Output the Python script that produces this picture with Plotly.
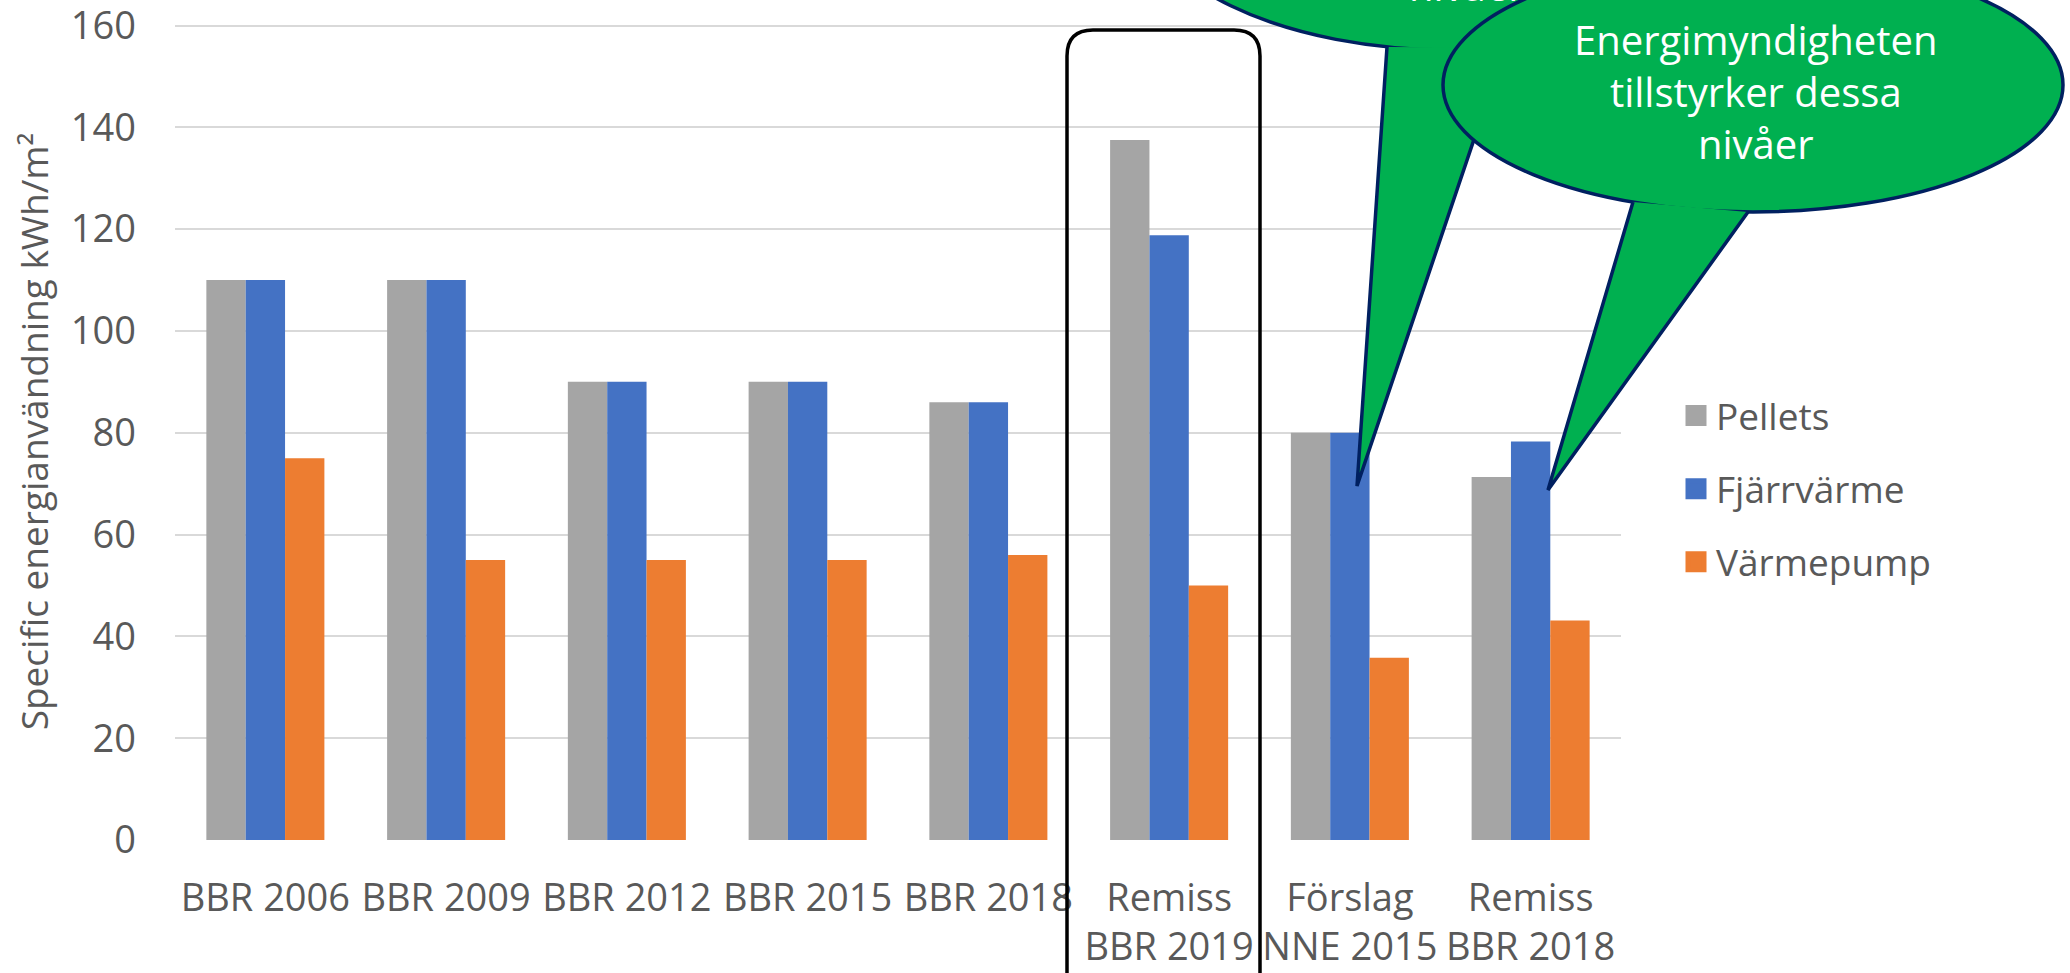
import plotly.graph_objects as go

# ---------------- data ----------------
categories = ["BBR 2006", "BBR 2009", "BBR 2012", "BBR 2015", "BBR 2018",
              "Remiss<br>BBR 2019", "Förslag<br>NNE 2015", "Remiss<br>BBR 2018"]
pellets = [110, 110, 90, 90, 86, 137.5, 80, 71.3]
fjarrvarme = [110, 110, 90, 90, 86, 118.8, 80, 78.3]
varmepump = [75, 55, 55, 55, 56, 50, 35.8, 43.1]
series_names = ["Pellets", "Fjärrvärme", "Värmepump"]
series_colors = ["#A5A5A5", "#4472C4", "#ED7D31"]
y_ticks = [0, 20, 40, 60, 80, 100, 120, 140, 160]
y_title = "Specific energianvändning kWh/m²"
bubble2_text = "Energimyndigheten<br>tillstyrker dessa<br>nivåer"
bubble1_text = "nivåer"

# ---------------- layout geometry (pixels) ----------------
W, H = 2070, 973
PL, PR, PT, PB = 175, 1621, 23, 840
Y_MAX = 160.5
FONT = "Open Sans"
TXT = "#595959"


def px(x):
    return (x - PL) / (PR - PL)


def py(y):
    return (PB - y) / (PB - PT)


fig = go.Figure()
for name, vals, col in zip(series_names, [pellets, fjarrvarme, varmepump], series_colors):
    fig.add_trace(go.Bar(x=categories, y=vals, name=name, marker_color=col,
                         marker_line_width=0, legendgroup=name, showlegend=False))
# legend entries (larger square swatches)
for name, col in zip(series_names, series_colors):
    fig.add_trace(go.Scatter(x=[None], y=[None], mode="markers", name=name,
                             legendgroup=name, hoverinfo="skip",
                             marker=dict(symbol="square", size=16, color=col,
                                         line=dict(color=col, width=5))))

shapes = []

# rounded rectangle around "Remiss BBR 2019"
L, R, T, B, rr = 1067, 1260, 30, 1010, 26
path = (f"M {px(L)},{py(B)} L {px(L)},{py(T + rr)} Q {px(L)},{py(T)} {px(L + rr)},{py(T)} "
        f"L {px(R - rr)},{py(T)} Q {px(R)},{py(T)} {px(R)},{py(T + rr)} L {px(R)},{py(B)}")
shapes.append(dict(type="path", xref="paper", yref="paper", path=path,
                   line=dict(color="black", width=3.5), layer="above"))

GREEN, NAVY = "#00B050", "#002060"


def ellipse(cx, cy, rx, ry):
    return dict(type="circle", xref="paper", yref="paper",
                x0=px(cx - rx), x1=px(cx + rx), y0=py(cy + ry), y1=py(cy - ry),
                fillcolor=GREEN, line=dict(color=NAVY, width=3.5), layer="above")


def tail(a, tip, b):
    p = f"M {px(a[0])},{py(a[1])} L {px(tip[0])},{py(tip[1])} L {px(b[0])},{py(b[1])}"
    return dict(type="path", xref="paper", yref="paper", path=p,
                fillcolor=GREEN, line=dict(color=NAVY, width=3.5), layer="above")


# bubble 1 (mostly off-canvas)
shapes.append(ellipse(1450, -101, 310, 151))
shapes.append(tail((1387, 47), (1357, 486), (1505, 47.6)))
# bubble 2
shapes.append(ellipse(1753, 85, 310, 127))
shapes.append(tail((1633, 202), (1548, 490), (1748, 212)))

annotations = [
    dict(x=px(1756), y=py(91), xref="paper", yref="paper", text=bubble2_text,
         showarrow=False, xanchor="center", yanchor="middle",
         font=dict(family=FONT, size=40, color="white")),
    dict(x=px(1467), y=py(-14), xref="paper", yref="paper", text=bubble1_text,
         showarrow=False, xanchor="center", yanchor="middle",
         font=dict(family=FONT, size=40, color="white")),
]

fig.update_layout(
    width=W, height=H,
    margin=dict(l=PL, r=W - PR, t=PT, b=H - PB, autoexpand=False),
    paper_bgcolor="white", plot_bgcolor="white",
    barmode="group", bargap=0.347, bargroupgap=0,
    font=dict(family=FONT, color=TXT),
    shapes=shapes, annotations=annotations,
    legend=dict(x=px(1676), xanchor="left", y=py(489), yanchor="middle",
                font=dict(family=FONT, size=37, color=TXT),
                traceorder="grouped", tracegroupgap=22, bgcolor="rgba(0,0,0,0)"),
    showlegend=True,
)
fig.update_xaxes(showgrid=False, zeroline=False, showline=False, ticks="",
                 tickfont=dict(family=FONT, size=38, color=TXT), ticklabelstandoff=32,
                 tickangle=0)
fig.update_yaxes(range=[0, Y_MAX], tickvals=y_ticks, showgrid=True, gridcolor="#D9D9D9",
                 gridwidth=2, zeroline=False, showline=False, ticks="",
                 ticklabeloverflow="allow",
                 tickfont=dict(family=FONT, size=38, color=TXT), ticklabelstandoff=38,
                 title=dict(text=y_title, font=dict(family=FONT, size=37, color=TXT),
                            standoff=10))

fig.write_html("out.html")
